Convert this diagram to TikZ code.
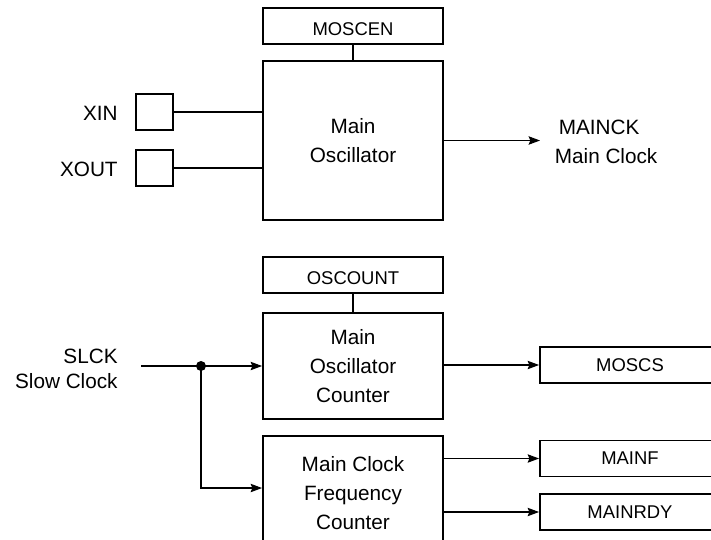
\documentclass[tikz,border=0pt]{standalone}
\usepackage{fontspec}
\setmainfont{Liberation Sans}
\usetikzlibrary{arrows.meta, positioning}
\tikzset{
  block/.style = {rectangle, draw, line width=1.1pt, minimum width=3.6cm,
                  align=center, inner sep=0pt, font=\fontsize{11.8}{16.4}\selectfont},
  reg/.style   = {rectangle, draw, line width=1.1pt, minimum width=3.6cm,
                  minimum height=0.72cm, inner sep=0pt, font=\fontsize{10.5}{12}\selectfont},
  pad/.style   = {rectangle, draw, line width=1.1pt, minimum size=0.73cm, inner sep=0pt},
  lbl/.style   = {inner sep=0pt, font=\fontsize{11.8}{14.7}\selectfont},
  dot/.style   = {circle, fill, inner sep=0pt, minimum size=0.2cm},
  wire/.style  = {line width=0.6pt},
  arrow/.style = {line width=0.6pt, -{Stealth[length=6.5pt, width=4.8pt, inset=1pt]}},
}

\begin{document}
\begin{tikzpicture}[x=0.02cm, y=-0.02cm]

    \useasboundingbox (0,0) rectangle (711,539);
    \clip (0,0) rectangle (711,539);

    %% Main oscillator part
    \node[reg, text height=0.38cm] (moscen) at (353, 26) {MOSCEN};
    \node[block, minimum height=3.18cm] (mosc) at (353,140.5) {Main\\Oscillator};
    \node[pad]   (xin)    at (154.5,112)  {};
    \node[pad]   (xout)   at (154.5,168)  {};
    \node[lbl, anchor=base east] (xinl)  at (118,120) {XIN};
    \node[lbl, anchor=base east] (xoutl) at (118,176) {XOUT};
    \node[lbl, anchor=base west] (ck)    at (558.5,134.5) {MAINCK};
    \node[lbl, anchor=base west] (ckl)   at (554.5,163.5) {Main Clock};
    \coordinate (ckout) at (540,141);

    \draw[wire] (moscen) -- (mosc);
    \draw[wire] (xin.east)  -- (xin.east -| mosc.west);
    \draw[wire] (xout.east) -- (xout.east -| mosc.west);
    \draw[arrow] (mosc.east) -- (mosc.east -| ckout);

    %% Counters
    \node[reg, text height=0.38cm] (oscount) at (353,275) {OSCOUNT};
    \node[block, minimum height=2.12cm] (oscnt) at (353,366) {Main\\Oscillator\\Counter};
    \node[block, minimum height=2.28cm] (freq)  at (353,493) {Main Clock\\Frequency\\Counter};
    \node[lbl, align=right, anchor=north east] (slck) at (118,348.3) {SLCK\\Slow Clock};
    \coordinate (slin) at (141,366);
    \node[dot] (split) at (201,366) {};

    \draw[wire] (oscount) -- (oscnt);
    \draw[arrow] (slin) -- (oscnt.west);
    \draw[arrow] (split.center) |- ([yshift=0.1cm]freq.west);

    %% Status flags
    \node[reg] (moscs)   at (630,365)   {MOSCS};
    \node[reg] (mainf)   at (630,458.5) {MAINF};
    \node[reg] (mainrdy) at (630,512)   {MAINRDY};

    \draw[arrow] (moscs.west -| oscnt.east)  -- (moscs.west);
    \draw[arrow] (mainf.west -| freq.east)   -- (mainf.west);
    \draw[arrow] (mainrdy.west -| freq.east) -- (mainrdy.west);

\end{tikzpicture}
\end{document}
